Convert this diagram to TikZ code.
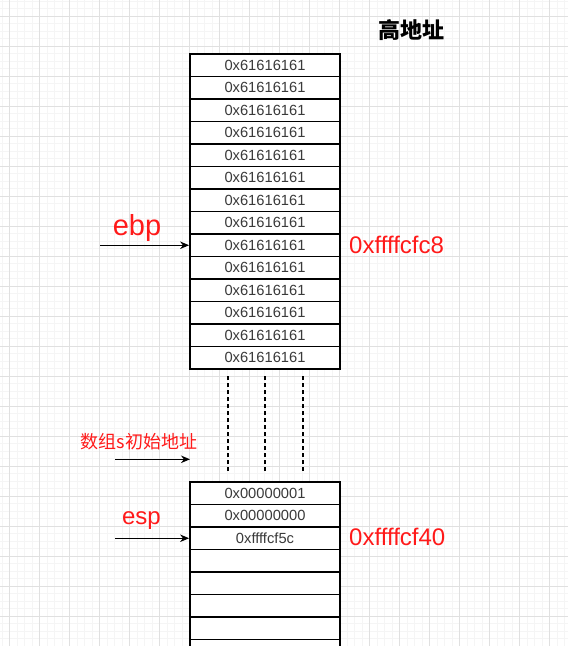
\documentclass[tikz,border=0pt]{standalone}
\usepackage{fontspec}
\setmainfont{Liberation Sans}
\newfontfamily\cjk{Noto Sans CJK SC}
\usetikzlibrary{arrows.meta}
\definecolor{gridmajor}{HTML}{E0E0E0}
\definecolor{gridminor}{HTML}{F5F5F5}
\definecolor{celltext}{HTML}{3A3A3A}
\definecolor{lblred}{HTML}{FF1A1A}
\tikzset{
  cell/.style={draw=black, line width=1.8pt, fill=white, rectangle,
    minimum width=150pt, minimum height=22.5pt, inner sep=0pt,
    font=\fontsize{14.7}{16}\selectfont, text=celltext},
  arr/.style={line width=1.2pt, -{Stealth[length=9pt,width=7.5pt]}},
  dashline/.style={line width=1.6pt, dash pattern=on 4pt off 3pt},
  redlbl/.style={text=lblred, inner sep=0pt},
}
\begin{document}
\begin{tikzpicture}[x=1pt,y=-1pt]
\useasboundingbox (0,0) rectangle (568,646);
\clip (0,0) rectangle (568,646);
\fill[white] (0,0) rectangle (568,646);
% grid
\foreach \i in {0,...,76} {
  \draw[gridminor, line width=1pt] ({2+7.5*\i},0) -- ({2+7.5*\i},646);
}
\foreach \i in {0,...,87} {
  \draw[gridminor, line width=1pt] (0,{1+7.5*\i}) -- (568,{1+7.5*\i});
}
\foreach \i in {0,...,19} {
  \draw[gridmajor, line width=1pt] ({9.5+30*\i},0) -- ({9.5+30*\i},646);
}
\foreach \i in {0,...,21} {
  \draw[gridmajor, line width=1pt] (0,{16+30*\i}) -- (568,{16+30*\i});
}
% top stack
\foreach \i in {1,...,14} {
  \node[cell] (t\i) at (265,{54+22.5*\i-11.25}) {0x61616161};
}
% bottom stack
\node[cell] (b1) at (265,{482+11.25}) {0x00000001};
\node[cell] (b2) at (265,{482+33.75}) {0x00000000};
\node[cell] (b3) at (265,{482+56.25}) {0xffffcf5c};
\foreach \i in {4,...,8} {
  \node[cell] (b\i) at (265,{482+22.5*\i-11.25}) {};
}
% dashed continuation
\coordinate (d1a) at (228,376); \coordinate (d1b) at (228,471);
\coordinate (d2a) at (265,376); \coordinate (d2b) at (265,471);
\coordinate (d3a) at (303,376); \coordinate (d3b) at (303,471);
\draw[dashline] (d1a) -- (d1b);
\draw[dashline] (d2a) -- (d2b);
\draw[dashline] (d3a) -- (d3b);
% labels
\node[inner sep=0pt, font=\cjk\bfseries\fontsize{22}{24}\selectfont] (high) at (411.5,30.3) {高地址};
\node[redlbl, anchor=base, font=\fontsize{29}{32}\selectfont] (ebp) at (137,235) {ebp};
\node[redlbl, anchor=base, font=\fontsize{24}{28}\selectfont] (esp) at (141.5,524) {esp};
\node[redlbl, anchor=base west, font=\fontsize{24}{28}\selectfont] (addr1) at (349,253.3) {0xffffcfc8};
\node[redlbl, anchor=base west, font=\fontsize{24}{28}\selectfont] (addr2) at (349,545) {0xffffcf40};
\node[redlbl, anchor=west, font=\cjk\fontsize{18}{20}\selectfont] (arr0) at (80.7,441.7) {数组s初始地址};
% arrows
\coordinate (ebpS) at (100,245.25);
\draw[arr] (ebpS) -- (t9.west);
\coordinate (espS) at (115,538.25);
\draw[arr] (espS) -- (b3.west);
\coordinate (arrS) at (115,459.3);
\coordinate (arrE) at (190,459.3);
\draw[arr] (arrS) -- (arrE);
\end{tikzpicture}
\end{document}
